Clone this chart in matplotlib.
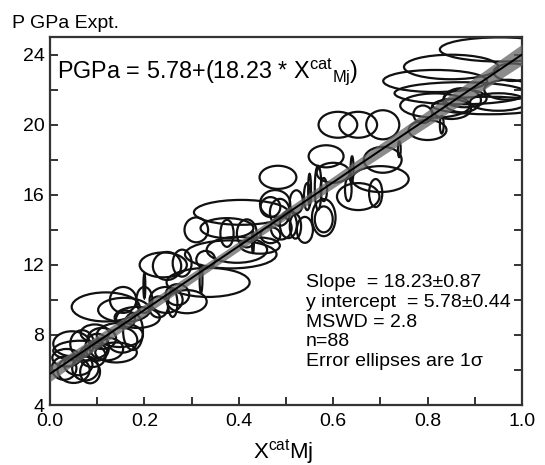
import numpy as np
import matplotlib
matplotlib.use("Agg")
import matplotlib.pyplot as plt
from matplotlib.patches import Ellipse
from matplotlib.ticker import MultipleLocator

plt.rcParams['font.family'] = ['Liberation Sans', 'DejaVu Sans']
plt.rcParams['mathtext.fontset'] = 'custom'
plt.rcParams['mathtext.rm'] = 'Liberation Sans'
plt.rcParams['mathtext.it'] = 'Liberation Sans:italic'

# error ellipses: centre (x_mj, p_gpa) and 1 sigma half-axes (sx, sp)
x_mj = [0.953, 0.85, 0.816, 0.87, 0.816, 0.88, 0.97, 0.95, 0.93, 0.873,
        0.85, 0.83, 0.61, 0.653, 0.705, 0.80, 0.585, 0.705, 0.60, 0.70,
        0.69, 0.653, 0.74, 0.483, 0.405, 0.477, 0.31, 0.375, 0.375, 0.417,
        0.445, 0.383, 0.396, 0.24, 0.248, 0.28, 0.335, 0.545, 0.568, 0.58,
        0.632, 0.467, 0.487, 0.522, 0.54, 0.58, 0.467, 0.505, 0.58, 0.52,
        0.49, 0.118, 0.157, 0.155, 0.20, 0.246, 0.29, 0.26, 0.185, 0.176,
        0.148, 0.153, 0.14, 0.046, 0.068, 0.064, 0.10, 0.05, 0.03, 0.085,
        0.09, 0.20, 0.06, 0.075, 0.11, 0.12, 0.035, 0.23, 0.27, 0.32,
        0.33, 0.43, 0.55, 0.64, 0.79, 0.98, 0.095, 0.16]
p_gpa = [24.3, 23.3, 22.5, 21.8, 21.1, 21.5, 22.0, 21.3, 21.1, 21.4,
         20.9, 20.0, 20.0, 20.0, 20.0, 19.7, 18.2, 18.0, 17.26, 16.9,
         16.1, 15.9, 18.6, 17.0, 15.0, 15.5, 14.0, 14.1, 13.8, 13.8,
         13.1, 12.6, 12.86, 12.0, 11.94, 12.1, 11.0, 15.9, 16.4, 16.3,
         16.3, 15.3, 15.0, 15.6, 14.0, 14.6, 13.7, 14.3, 14.7, 14.2,
         14.1, 9.6, 9.43, 10.0, 10.0, 10.0, 9.9, 9.8, 9.0, 8.2,
         8.0, 7.7, 7.0, 7.5, 7.5, 7.1, 7.3, 6.0, 6.1, 5.9,
         6.8, 10.8, 6.3, 6.1, 7.8, 7.2, 6.7, 9.6, 10.3, 11.2,
         12.3, 13.3, 16.3, 17.5, 20.6, 23.0, 8.1, 8.9]
sx = [0.127, 0.10, 0.11, 0.14, 0.074, 0.045, 0.05, 0.06, 0.12, 0.04,
      0.042, 0.004, 0.041, 0.040, 0.035, 0.04, 0.037, 0.04, 0.035, 0.06,
      0.014, 0.045, 0.003, 0.039, 0.10, 0.032, 0.025, 0.056, 0.014, 0.021,
      0.042, 0.097, 0.064, 0.05, 0.03, 0.02, 0.088, 0.007, 0.007, 0.007,
      0.007, 0.021, 0.021, 0.014, 0.017, 0.019, 0.021, 0.018, 0.025, 0.012,
      0.022, 0.072, 0.055, 0.028, 0.017, 0.035, 0.042, 0.01, 0.048, 0.021,
      0.049, 0.032, 0.044, 0.039, 0.025, 0.057, 0.025, 0.034, 0.026, 0.021,
      0.028, 0.002, 0.03, 0.028, 0.03, 0.035, 0.03, 0.02, 0.025, 0.003,
      0.02, 0.002, 0.003, 0.003, 0.02, 0.04, 0.03, 0.02]
sp = [0.69, 0.70, 0.63, 0.63, 0.69, 0.50, 0.57, 0.50, 0.50, 0.69,
      0.57, 0.50, 0.74, 0.74, 0.83, 0.57, 0.63, 0.74, 0.57, 0.74,
      0.80, 0.77, 0.45, 0.66, 0.71, 0.77, 0.71, 0.57, 0.77, 0.80,
      0.46, 0.80, 0.74, 0.71, 0.80, 0.77, 0.83, 0.77, 1.26, 0.66,
      0.66, 0.57, 0.77, 0.66, 0.74, 0.74, 0.46, 0.77, 1.06, 0.70,
      0.65, 0.83, 0.69, 0.74, 0.74, 0.74, 0.66, 0.77, 0.60, 1.06,
      0.69, 0.71, 0.57, 0.71, 0.77, 0.57, 0.77, 0.74, 0.66, 0.66,
      0.63, 0.70, 0.60, 0.70, 0.60, 0.65, 0.50, 0.60, 0.60, 0.80,
      0.50, 0.60, 0.90, 0.70, 0.50, 0.50, 0.50, 0.50]

slope, slope_err = 18.23, 0.87
intercept, intercept_err = 5.78, 0.44
cov_ab = -0.30

fig = plt.figure(figsize=(5.45, 4.65), dpi=100)
ax = fig.add_axes([0.0917, 0.129, 0.8661, 0.791])

for x, p, w, h in zip(x_mj, p_gpa, sx, sp):
    ax.add_patch(Ellipse((x, p), 2 * w, 2 * h, fill=False,
                         edgecolor='#111111', lw=1.6, zorder=2))

xx = np.linspace(0, 1, 200)
yy = intercept + slope * xx
band = np.sqrt(intercept_err**2 + 2 * cov_ab * xx + (slope_err * xx)**2)
ax.fill_between(xx, yy - band, yy + band, color='#666666', alpha=0.75,
                lw=0, zorder=3)
ax.plot(xx, yy, color='black', lw=1.4, zorder=4)

ax.set_xlim(0, 1)
ax.set_ylim(4, 25)
ax.xaxis.set_major_locator(MultipleLocator(0.2))
ax.xaxis.set_minor_locator(MultipleLocator(0.1))
ax.yaxis.set_major_locator(MultipleLocator(4))
ax.yaxis.set_minor_locator(MultipleLocator(2))
ax.xaxis.set_major_formatter(matplotlib.ticker.FormatStrFormatter('%.1f'))
ax.tick_params(which='both', direction='in', length=6, width=1.4,
               top=False, right=True, labelsize=14, color='#333333')
ax.tick_params(axis='x', pad=6)
ax.tick_params(axis='y', pad=4)
for s in ax.spines.values():
    s.set_linewidth(1.6)
    s.set_color('#333333')

ax.text(0.015, 0.889, r"PGPa = 5.78+(18.23 * X$^{\rm cat}$$_{\rm Mj}$)",
        transform=ax.transAxes, fontsize=16.8, va='baseline', ha='left')

stats = ["Slope  = 18.23\u00b10.87",
         "y intercept  = 5.78\u00b10.44",
         "MSWD = 2.8",
         "n=88",
         "Error ellipses are 1\u03c3"]
for i, line in enumerate(stats):
    ax.text(0.542, 0.321 - i * 0.0538, line, transform=ax.transAxes,
            fontsize=14, va='baseline', ha='left')

fig.text(0.022, 0.94, "P GPa Expt.", fontsize=14, va='baseline', ha='left')
fig.text(0.52, 0.013, r"X$^{\rm cat}$Mj", fontsize=16, va='baseline',
         ha='center')

fig.savefig("out.png", dpi=100)
plt.close(fig)
